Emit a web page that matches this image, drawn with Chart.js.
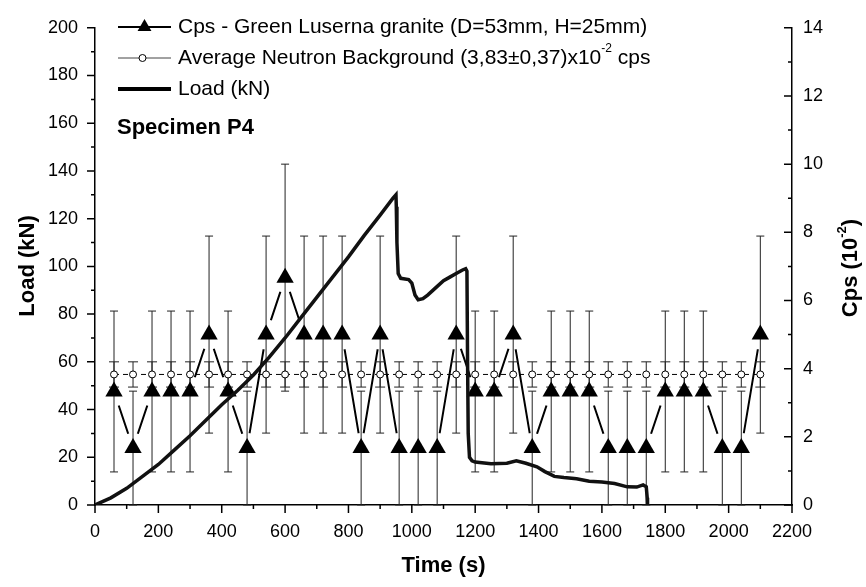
<!DOCTYPE html>
<html>
<head>
<meta charset="utf-8">
<script src="https://cdn.jsdelivr.net/npm/chart.js@4.4.1/dist/chart.umd.min.js"></script>
<style>
  html, body { margin: 0; padding: 0; background: #fff; }
</style>
</head>
<body>
<canvas id="loadChart" width="866" height="587"></canvas>
<script>
  // neutron counts, one bin every 60 s (values in 10^-2 cps)
  const cpsTime = [60, 120, 180, 240, 300, 360, 420, 480, 540, 600, 660, 720, 780, 840, 900, 960, 1020, 1080, 1140,
    1200, 1260, 1320, 1380, 1440, 1500, 1560, 1620, 1680, 1740, 1800, 1860, 1920, 1980, 2040, 2100];
  const cpsValue = [3.33, 1.67, 3.33, 3.33, 3.33, 5.00, 3.33, 1.67, 5.00, 6.67, 5.00, 5.00, 5.00, 1.67, 5.00, 1.67, 1.67, 1.67, 5.00,
    3.33, 3.33, 5.00, 1.67, 3.33, 3.33, 3.33, 1.67, 1.67, 1.67, 3.33, 3.33, 3.33, 1.67, 1.67, 5.00];
  const cpsError = [2.36, 1.67, 2.36, 2.36, 2.36, 2.89, 2.36, 1.67, 2.89, 3.33, 2.89, 2.89, 2.89, 1.67, 2.89, 1.67, 1.67, 1.67, 2.89,
    2.36, 2.36, 2.89, 1.67, 2.36, 2.36, 2.36, 1.67, 1.67, 1.67, 2.36, 2.36, 2.36, 1.67, 1.67, 2.89];

  // average neutron background
  const bgLevel = 3.83;
  const bgSpread = 0.37;

  // load cell record
  const loadTime = [0, 50, 100, 150, 200, 250, 300, 350, 400, 450, 500, 550, 600, 650, 700, 750, 800, 850, 900, 940,
    950, 951, 953, 957, 965, 990, 1000, 1010, 1020, 1035, 1050, 1075, 1100, 1120, 1140, 1160, 1170, 1174, 1176, 1178,
    1182, 1190, 1200, 1250, 1300, 1330, 1360, 1395, 1420, 1450, 1480, 1520, 1560, 1600, 1640, 1680, 1710, 1730, 1740, 1743, 1744];
  const loadValue = [0, 3, 7, 12, 17, 23, 29, 35.5, 42, 48, 54.5, 62, 70, 78.5, 87, 95.5, 104, 113, 121.5, 128.5,
    130, 125, 110, 97, 95, 94.5, 93, 88, 86, 86.5, 88, 91, 94, 95.5, 97, 98.5, 99, 98, 60, 30,
    20, 18.5, 18, 17.3, 17.5, 18.5, 17.5, 16, 14, 12, 11.5, 11, 10, 9.6, 9, 7.6, 7.5, 8.4, 7.6, 3, 0];

  const FONT = '"Liberation Sans", Arial, Helvetica, sans-serif';

  const cpsPoints = cpsTime.map((t, i) => ({ x: t, y: cpsValue[i] }));
  const bgPoints = cpsTime.map(t => ({ x: t, y: bgLevel }));
  const loadPoints = loadTime.map((t, i) => ({ x: t, y: loadValue[i] }));

  // index of the white disc dataset that opens gaps round the triangles
  const HALO = 2;

  function fmtComma(v) {
    return v.toFixed(2).replace('.', ',');
  }

  function errorBar(ctx, x, yTop, yBot, cap) {
    ctx.beginPath();
    ctx.moveTo(x, yTop); ctx.lineTo(x, yBot);
    ctx.moveTo(x - cap, yTop); ctx.lineTo(x + cap, yTop);
    ctx.moveTo(x - cap, yBot); ctx.lineTo(x + cap, yBot);
    ctx.stroke();
  }

  // text with a small raised part, e.g. 10^-2
  function supText(ctx, parts, x, y, font, supFont) {
    let cx = x;
    parts.forEach(p => {
      ctx.font = p.sup ? supFont : font;
      ctx.fillText(p.t, cx, p.sup ? y - 9 : y);
      cx += ctx.measureText(p.t).width;
    });
  }

  function supWidth(ctx, parts, font, supFont) {
    let w = 0;
    parts.forEach(p => {
      ctx.font = p.sup ? supFont : font;
      w += ctx.measureText(p.t).width;
    });
    return w;
  }

  const decor = {
    id: 'decor',
    afterDatasetDraw(chart, args) {
      if (args.index !== HALO) return;
      const { ctx, scales } = chart;
      const x = scales.x, y1 = scales.y1;
      ctx.save();
      ctx.strokeStyle = '#222';
      ctx.lineWidth = 1;
      bgPoints.forEach(p => {
        errorBar(ctx, x.getPixelForValue(p.x), y1.getPixelForValue(bgLevel + bgSpread),
          y1.getPixelForValue(bgLevel - bgSpread), 5);
      });
      cpsTime.forEach((t, i) => {
        const lo = Math.max(0, cpsValue[i] - cpsError[i]);
        errorBar(ctx, x.getPixelForValue(t), y1.getPixelForValue(cpsValue[i] + cpsError[i]),
          y1.getPixelForValue(lo), 4);
      });
      ctx.restore();
    },
    afterDraw(chart) {
      const { ctx, scales, chartArea } = chart;
      const x = scales.x, y = scales.y, y1 = scales.y1;
      ctx.save();
      ctx.strokeStyle = '#000';
      ctx.lineWidth = 1.5;

      // major and minor tick marks
      const tickPairs = (scale, fn) => {
        const vals = scale.ticks.map(t => t.value);
        vals.forEach((v, i) => {
          fn(scale.getPixelForValue(v), 8);
          if (i < vals.length - 1) fn(scale.getPixelForValue((v + vals[i + 1]) / 2), 4);
        });
      };
      ctx.beginPath();
      tickPairs(x, (px, len) => { ctx.moveTo(px, chartArea.bottom); ctx.lineTo(px, chartArea.bottom + len); });
      tickPairs(y, (py, len) => { ctx.moveTo(chartArea.left - len, py); ctx.lineTo(chartArea.left, py); });
      tickPairs(y1, (py, len) => { ctx.moveTo(chartArea.right - len, py); ctx.lineTo(chartArea.right, py); });
      ctx.stroke();

      // legend
      const lx0 = 118, lx1 = 171, tx = 178;
      const lf = '21px ' + FONT;
      ctx.fillStyle = '#000';
      ctx.textBaseline = 'middle';
      ctx.textAlign = 'left';

      ctx.lineWidth = 2;
      ctx.beginPath(); ctx.moveTo(lx0, 27); ctx.lineTo(lx1, 27); ctx.stroke();
      ctx.beginPath();
      const r = 8, cx = (lx0 + lx1) / 2;
      ctx.moveTo(cx, 27 - r);
      ctx.lineTo(cx + r * 0.866, 27 + r / 2);
      ctx.lineTo(cx - r * 0.866, 27 + r / 2);
      ctx.closePath(); ctx.fill();
      ctx.font = lf;
      ctx.fillText('Cps - Green Luserna granite (D=53mm, H=25mm)', tx, 27);

      ctx.lineWidth = 1;
      ctx.strokeStyle = '#444';
      ctx.beginPath(); ctx.moveTo(lx0, 58); ctx.lineTo(lx1, 58); ctx.stroke();
      ctx.strokeStyle = '#000';
      ctx.beginPath(); ctx.arc(cx - 2, 58, 3.5, 0, Math.PI * 2);
      ctx.fillStyle = '#fff'; ctx.fill(); ctx.stroke();
      ctx.fillStyle = '#000';
      supText(ctx, [
        { t: 'Average Neutron Background (' + fmtComma(bgLevel) + '±' + fmtComma(bgSpread) + ')x10' },
        { t: '-2', sup: true },
        { t: ' cps' }
      ], tx, 58, lf, '12px ' + FONT);

      ctx.lineWidth = 4;
      ctx.beginPath(); ctx.moveTo(lx0, 89); ctx.lineTo(lx1, 89); ctx.stroke();
      ctx.font = lf;
      ctx.fillText('Load (kN)', tx, 89);

      const bf = 'bold 22px ' + FONT;
      ctx.font = bf;
      ctx.fillText('Specimen P4', 117, 128);

      // axis titles
      ctx.textAlign = 'center';
      ctx.fillText('Time (s)', (chartArea.left + chartArea.right) / 2, 566);

      ctx.save();
      ctx.translate(28, 266);
      ctx.rotate(-Math.PI / 2);
      ctx.fillText('Load (kN)', 0, 0);
      ctx.restore();

      const rt = [{ t: 'Cps (10' }, { t: '-2', sup: true }, { t: ')' }];
      const sf = 'bold 13px ' + FONT;
      ctx.save();
      ctx.translate(851, 268);
      ctx.rotate(-Math.PI / 2);
      ctx.textAlign = 'left';
      supText(ctx, rt, -supWidth(ctx, rt, bf, sf) / 2, 0, bf, sf);
      ctx.restore();

      ctx.restore();
    }
  };

  const tickFont = { family: FONT, size: 18 };
  const plainTick = v => String(v);

  const config = {
    type: 'line',
    data: {
      datasets: [
        {
          label: 'Load (kN)',
          data: loadPoints,
          yAxisID: 'y',
          borderColor: '#111',
          borderWidth: 3.5,
          pointRadius: 0,
          tension: 0,
          order: 0
        },
        {
          label: 'Cps markers',
          data: cpsPoints,
          yAxisID: 'y1',
          showLine: false,
          pointStyle: 'triangle',
          pointRadius: 10,
          pointBorderWidth: 0,
          pointBackgroundColor: '#000',
          order: 1
        },
        {
          label: 'halo',
          data: cpsPoints,
          yAxisID: 'y1',
          showLine: false,
          pointStyle: 'circle',
          pointRadius: 15,
          pointBorderWidth: 0,
          pointBackgroundColor: '#fff',
          order: 3
        },
        {
          label: 'Cps - Green Luserna granite (D=53mm, H=25mm)',
          data: cpsPoints,
          yAxisID: 'y1',
          borderColor: '#000',
          borderWidth: 2,
          pointRadius: 0,
          tension: 0,
          order: 4
        },
        {
          label: 'Average Neutron Background',
          data: bgPoints,
          yAxisID: 'y1',
          borderColor: '#000',
          borderWidth: 1,
          borderDash: [5, 4],
          pointStyle: 'circle',
          pointRadius: 3.5,
          pointBorderWidth: 1,
          pointBorderColor: '#000',
          pointBackgroundColor: '#fff',
          order: 2
        }
      ]
    },
    options: {
      responsive: false,
      animation: false,
      devicePixelRatio: 1,
      layout: { padding: { top: 19 } },
      plugins: {
        legend: { display: false },
        tooltip: { enabled: false },
        title: { display: false }
      },
      scales: {
        x: {
          type: 'linear',
          min: 0,
          max: 2200,
          afterFit: s => { s.height = 82; },
          ticks: { stepSize: 200, font: tickFont, color: '#000', padding: 16, maxRotation: 0, autoSkip: false, callback: plainTick },
          grid: { display: false, drawTicks: false },
          border: { display: true, color: '#000', width: 1.5 }
        },
        y: {
          position: 'left',
          min: 0,
          max: 200,
          afterFit: s => { s.width = 95; },
          ticks: { stepSize: 20, font: tickFont, color: '#000', padding: 17, callback: plainTick },
          grid: { display: false, drawTicks: false },
          border: { display: true, color: '#000', width: 1.5 }
        },
        y1: {
          position: 'right',
          min: 0,
          max: 14,
          afterFit: s => { s.width = 74; },
          ticks: { stepSize: 2, font: tickFont, color: '#000', padding: 11, callback: plainTick },
          grid: { display: false, drawTicks: false },
          border: { display: true, color: '#000', width: 1.5 }
        }
      }
    },
    plugins: [decor]
  };

  var loadChart = new Chart(document.getElementById('loadChart'), config);
</script>
</body>
</html>
